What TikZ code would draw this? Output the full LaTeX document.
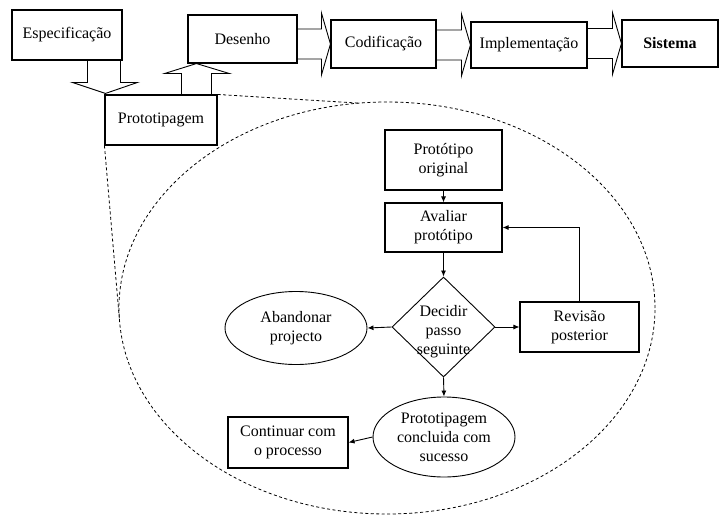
\documentclass[tikz,border=0pt]{standalone}
\usepackage{fontspec}
\setmainfont{Liberation Serif}
\usetikzlibrary{shapes.geometric, calc, arrows.meta}

\begin{document}
\begin{tikzpicture}[x=1pt, y=-1pt,
  every node/.style={font=\fontsize{16}{19}\selectfont, align=center, inner sep=0pt},
  stage/.style={draw, line width=1.1pt, rectangle},
  stepbox/.style={draw, line width=1.1pt, rectangle},
  oval/.style={draw, line width=0.9pt, ellipse},
  decision/.style={draw, line width=0.9pt, diamond},
  flow/.style={line width=0.9pt, -{Latex[length=6pt, width=5pt]}},
  barrow/.style={draw, line width=0.9pt, line join=miter},
  zoomline/.style={line width=0.8pt, dash pattern=on 3pt off 2.5pt}]

\useasboundingbox (0,0) rectangle (720,519);

% development stages along the top
\node[stage, minimum width=110pt, minimum height=50pt] (espec) at (67,35) {Especificação};
\node[stage, minimum width=112pt, minimum height=50pt] (proto) at (161,120) {Prototipagem};
\node[stage, minimum width=109pt, minimum height=48pt] (desenho) at (242.5,39) {Desenho};
\node[stage, minimum width=105pt, minimum height=48pt] (codif) at (383.5,44) {Codificação};
\node[stage, minimum width=116pt, minimum height=46pt] (implem) at (529,45) {Implementação};
\node[stage, minimum width=96pt, minimum height=47pt] (sistema) at (670,43.5) {\bfseries Sistema};

% hollow block arrows between the stages
\foreach \s/\t in {desenho/codif, codif/implem, implem/sistema}{
  \draw[barrow] let \p1=(\s.east), \p2=(\t.west) in
    (\x1,\y2+15pt) -- (\x2-9pt,\y2+15pt) -- (\x2-9pt,\y2+31pt) -- (\x2,\y2)
    -- (\x2-9pt,\y2-31pt) -- (\x2-9pt,\y2-15pt) -- (\x1,\y2-15pt);
}
\draw[barrow] let \p1=(espec.south), \p2=(proto.north west) in
  (\x2-17pt,\y1) -- (\x2-17pt,\y2+12pt) -- (\x2-32pt,\y2+12pt) -- (\x2+1pt,\y2+1pt)
  -- (\x2+33pt,\y2+12pt) -- (\x2+16pt,\y2+12pt) -- (\x2+16pt,\y1);
\draw[barrow] let \p1=(proto.north), \p2=(desenho.south west) in
  (\x2-6pt,\y1) -- (\x2-6pt,\y2-10pt) -- (\x2-23pt,\y2-10pt) -- (\x2+9pt,\y2)
  -- (\x2+42pt,\y2-10pt) -- (\x2+24pt,\y2-10pt) -- (\x2+24pt,\y1);

% enlarged view of the prototyping stage
\coordinate (c) at (387,308);
\draw[zoomline] (c) ellipse [x radius=268pt, y radius=206pt];
\draw[zoomline] (proto.south west) -- ([shift={(183:268pt and 206pt)}]c);
\draw[zoomline] (proto.north east) -- ([shift={(96:268pt and 206pt)}]c);

% prototyping cycle
\node[stepbox, minimum width=117pt, minimum height=60pt] (orig) at (443.5,160) {Protótipo\\original};
\node[stepbox, minimum width=117pt, minimum height=49pt] (aval) at (443.5,227.5) {Avaliar\\protótipo};
\node[decision, minimum width=103pt, minimum height=100pt,
      label={[yshift=-5pt]center:Decidir\\passo\\seguinte}] (dec) at (443.5,327) {};
\node[oval, minimum width=142pt, minimum height=73pt] (aband) at (296,328) {Abandonar\\projecto};
\node[stepbox, minimum width=119pt, minimum height=50pt] (revisao) at (579.5,327) {Revisão\\posterior};
\node[oval, minimum width=142pt, minimum height=80pt] (sucesso) at (444,437) {Prototipagem\\concluida com\\sucesso};
\node[stepbox, minimum width=120pt, minimum height=51pt] (contin) at (288,442.5) {Continuar com\\o processo};

\draw[flow] (orig) -- (aval);
\draw[flow] (aval) -- (dec);
\draw[flow] (dec.west) -- (aband.east);
\draw[flow] (dec.east) -- (revisao.west);
\draw[flow] (dec.south) -- (sucesso.north);
\draw[flow] (sucesso.west) -- (contin.east);
\draw[flow] (revisao.north) |- (aval.east);

\end{tikzpicture}
\end{document}
